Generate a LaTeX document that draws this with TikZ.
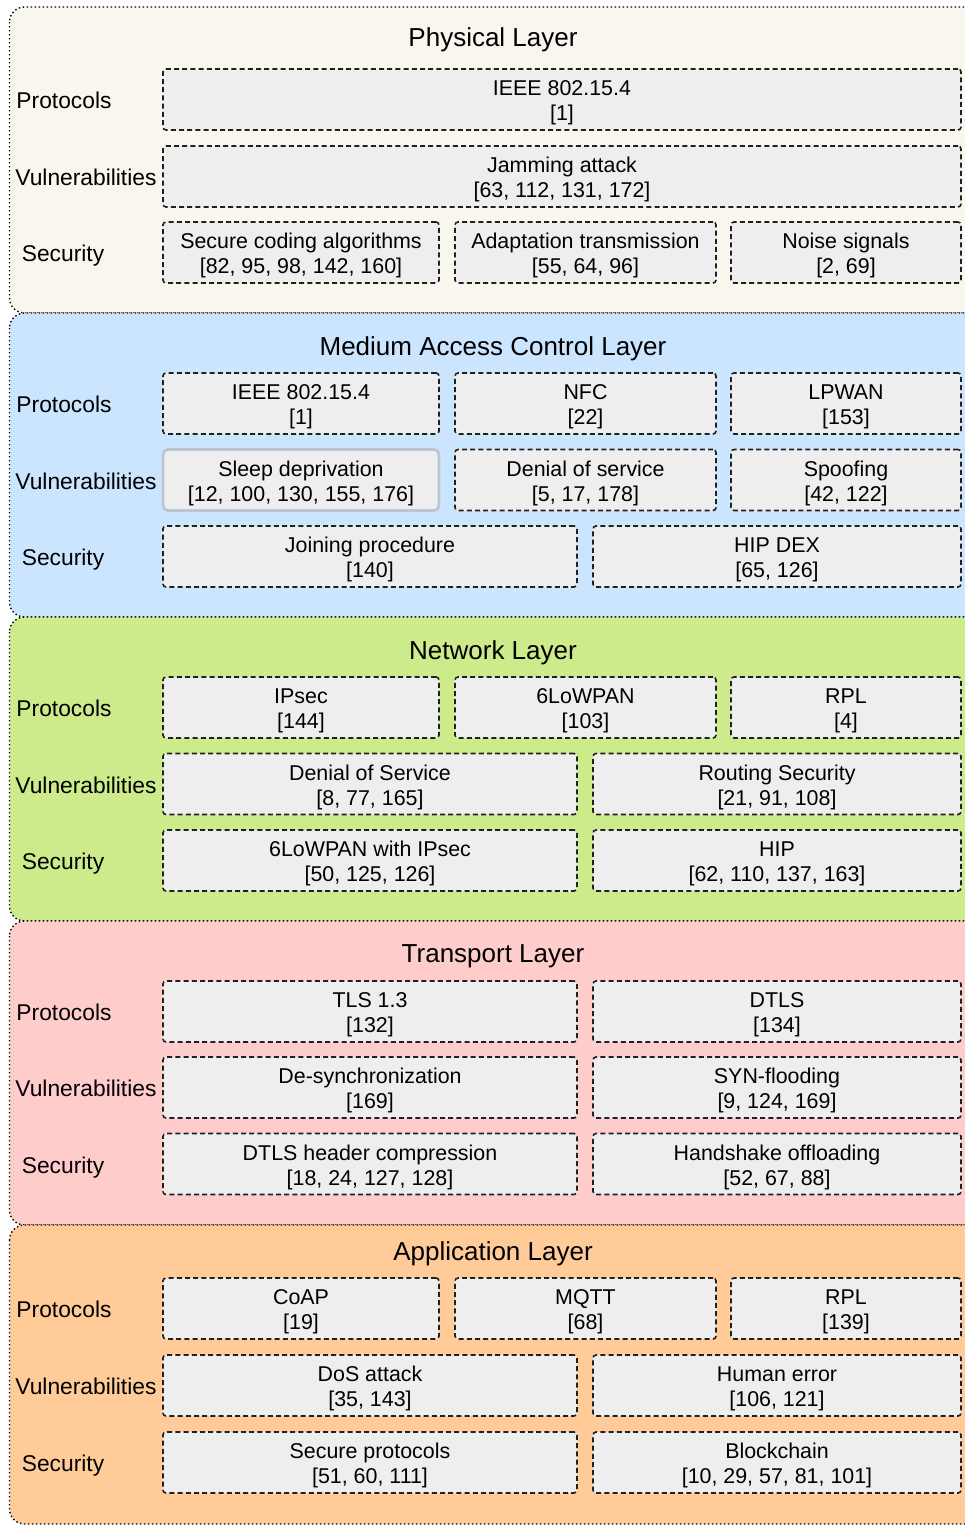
\documentclass[tikz,border=0pt]{standalone}
\usepackage{fontspec}
\setmainfont{Liberation Sans}
\definecolor{physfill}{HTML}{F9F6EE}
\definecolor{macfill}{HTML}{CCE5FF}
\definecolor{netfill}{HTML}{CDEB8B}
\definecolor{transfill}{HTML}{FFCCCC}
\definecolor{appfill}{HTML}{FFCC99}
\definecolor{cellfill}{HTML}{EEEEEE}
\definecolor{cellline}{HTML}{202020}
\definecolor{markline}{HTML}{BCC5D0}

\begin{document}
\begin{tikzpicture}[x = 0.5pt, y = -0.5pt]
\tikzstyle{LayerStyle}=[
draw,
line width = 0.7pt,
dash pattern = on 0.7pt off 1.3pt,
rounded corners = 7.5pt]
\tikzstyle{CellStyle}=[
draw = cellline,
fill = cellfill,
line width = 0.8pt,
dash pattern = on 2.5pt off 1.6pt,
rounded corners = 1.5pt,
minimum height = 30.5pt,
inner sep = 0pt,
text height = 23.6pt,
align = center,
font = \fontsize{10.7}{12.5}\selectfont]
\tikzstyle{RowStyle}=[inner sep = 0pt, text depth = 0pt, font = \fontsize{11.4}{13}\selectfont]
\tikzstyle{TitleStyle}=[inner sep = 0pt, text depth = 0pt, font = \fontsize{13}{15}\selectfont]
\tikzstyle{ColA}=[minimum width = 138pt]
\tikzstyle{ColB}=[minimum width = 130.5pt]
\tikzstyle{ColC}=[minimum width = 115pt]
\tikzstyle{HalfA}=[minimum width = 207pt]
\tikzstyle{HalfB}=[minimum width = 184pt]
\tikzstyle{Full}=[minimum width = 399pt]

\useasboundingbox (0,0) rectangle (964,1526);

% layer panels
\draw[LayerStyle, fill = physfill] (9.5,7) rectangle (990,313);
\draw[LayerStyle, fill = macfill] (9.5,313) rectangle (990,617);
\draw[LayerStyle, fill = netfill] (9.5,617) rectangle (990,921);
\draw[LayerStyle, fill = transfill] (9.5,921) rectangle (990,1225);
\draw[LayerStyle, fill = appfill] (9.5,1225) rectangle (990,1524);

% physical layer
\node[TitleStyle] (phy) at (493,37) {Physical Layer};
\node[RowStyle] (phyP) at (64,100.5) {Protocols};
\node[RowStyle, anchor = west] (phyV) at (15,177.5) {Vulnerabilities};
\node[RowStyle] (phyS) at (63,253.5) {Security};
\node[CellStyle, Full] (phyP1) at (562,99.5) {IEEE 802.15.4\\{[1]}};
\node[CellStyle, Full] (phyV1) at (562,176.5) {Jamming attack\\{[63, 112, 131, 172]}};
\node[CellStyle, ColA] (phyS1) at (301,252.5) {Secure coding algorithms\\{[82, 95, 98, 142, 160]}};
\node[CellStyle, ColB] (phyS2) at (585.5,252.5) {Adaptation transmission\\{[55, 64, 96]}};
\node[CellStyle, ColC] (phyS3) at (846,252.5) {Noise signals\\{[2, 69]}};

% medium access control layer
\node[TitleStyle] (mac) at (493,346) {Medium Access Control Layer};
\node[RowStyle] (macP) at (64,404.5) {Protocols};
\node[RowStyle, anchor = west] (macV) at (15,481) {Vulnerabilities};
\node[RowStyle] (macS) at (63,557.5) {Security};
\node[CellStyle, ColA] (macP1) at (301,403.5) {IEEE 802.15.4\\{[1]}};
\node[CellStyle, ColB] (macP2) at (585.5,403.5) {NFC\\{[22]}};
\node[CellStyle, ColC] (macP3) at (846,403.5) {LPWAN\\{[153]}};
\node[CellStyle, ColA, solid, draw = markline, line width = 1.3pt, rounded corners = 2.5pt] (macV1) at (301,480) {Sleep deprivation\\{[12, 100, 130, 155, 176]}};
\node[CellStyle, ColB] (macV2) at (585.5,480) {Denial of service\\{[5, 17, 178]}};
\node[CellStyle, ColC] (macV3) at (846,480) {Spoofing\\{[42, 122]}};
\node[CellStyle, HalfA] (macS1) at (370,556.5) {Joining procedure\\{[140]}};
\node[CellStyle, HalfB] (macS2) at (777,556.5) {HIP DEX\\{[65, 126]}};

% network layer
\node[TitleStyle] (net) at (493,650) {Network Layer};
\node[RowStyle] (netP) at (64,708.5) {Protocols};
\node[RowStyle, anchor = west] (netV) at (15,785) {Vulnerabilities};
\node[RowStyle] (netS) at (63,861.5) {Security};
\node[CellStyle, ColA] (netP1) at (301,707.5) {IPsec\\{[144]}};
\node[CellStyle, ColB] (netP2) at (585.5,707.5) {6LoWPAN\\{[103]}};
\node[CellStyle, ColC] (netP3) at (846,707.5) {RPL\\{[4]}};
\node[CellStyle, HalfA] (netV1) at (370,784) {Denial of Service\\{[8, 77, 165]}};
\node[CellStyle, HalfB] (netV2) at (777,784) {Routing Security\\{[21, 91, 108]}};
\node[CellStyle, HalfA] (netS1) at (370,860.5) {6LoWPAN with IPsec\\{[50, 125, 126]}};
\node[CellStyle, HalfB] (netS2) at (777,860.5) {HIP\\{[62, 110, 137, 163]}};

% transport layer
\node[TitleStyle] (tra) at (493,954) {Transport Layer};
\node[RowStyle] (traP) at (64,1012.5) {Protocols};
\node[RowStyle, anchor = west] (traV) at (15,1088.5) {Vulnerabilities};
\node[RowStyle] (traS) at (63,1165) {Security};
\node[CellStyle, HalfA] (traP1) at (370,1011.5) {TLS 1.3\\{[132]}};
\node[CellStyle, HalfB] (traP2) at (777,1011.5) {DTLS\\{[134]}};
\node[CellStyle, HalfA] (traV1) at (370,1087.5) {De-synchronization\\{[169]}};
\node[CellStyle, HalfB] (traV2) at (777,1087.5) {SYN-flooding\\{[9, 124, 169]}};
\node[CellStyle, HalfA] (traS1) at (370,1164) {DTLS header compression\\{[18, 24, 127, 128]}};
\node[CellStyle, HalfB] (traS2) at (777,1164) {Handshake offloading\\{[52, 67, 88]}};

% application layer
\node[TitleStyle] (app) at (493,1251) {Application Layer};
\node[RowStyle] (appP) at (64,1309.5) {Protocols};
\node[RowStyle, anchor = west] (appV) at (15,1386.5) {Vulnerabilities};
\node[RowStyle] (appS) at (63,1463.5) {Security};
\node[CellStyle, ColA] (appP1) at (301,1308.5) {CoAP\\{[19]}};
\node[CellStyle, ColB] (appP2) at (585.5,1308.5) {MQTT\\{[68]}};
\node[CellStyle, ColC] (appP3) at (846,1308.5) {RPL\\{[139]}};
\node[CellStyle, HalfA] (appV1) at (370,1385.5) {DoS attack\\{[35, 143]}};
\node[CellStyle, HalfB] (appV2) at (777,1385.5) {Human error\\{[106, 121]}};
\node[CellStyle, HalfA] (appS1) at (370,1462.5) {Secure protocols\\{[51, 60, 111]}};
\node[CellStyle, HalfB] (appS2) at (777,1462.5) {Blockchain\\{[10, 29, 57, 81, 101]}};
\end{tikzpicture}
\end{document}
